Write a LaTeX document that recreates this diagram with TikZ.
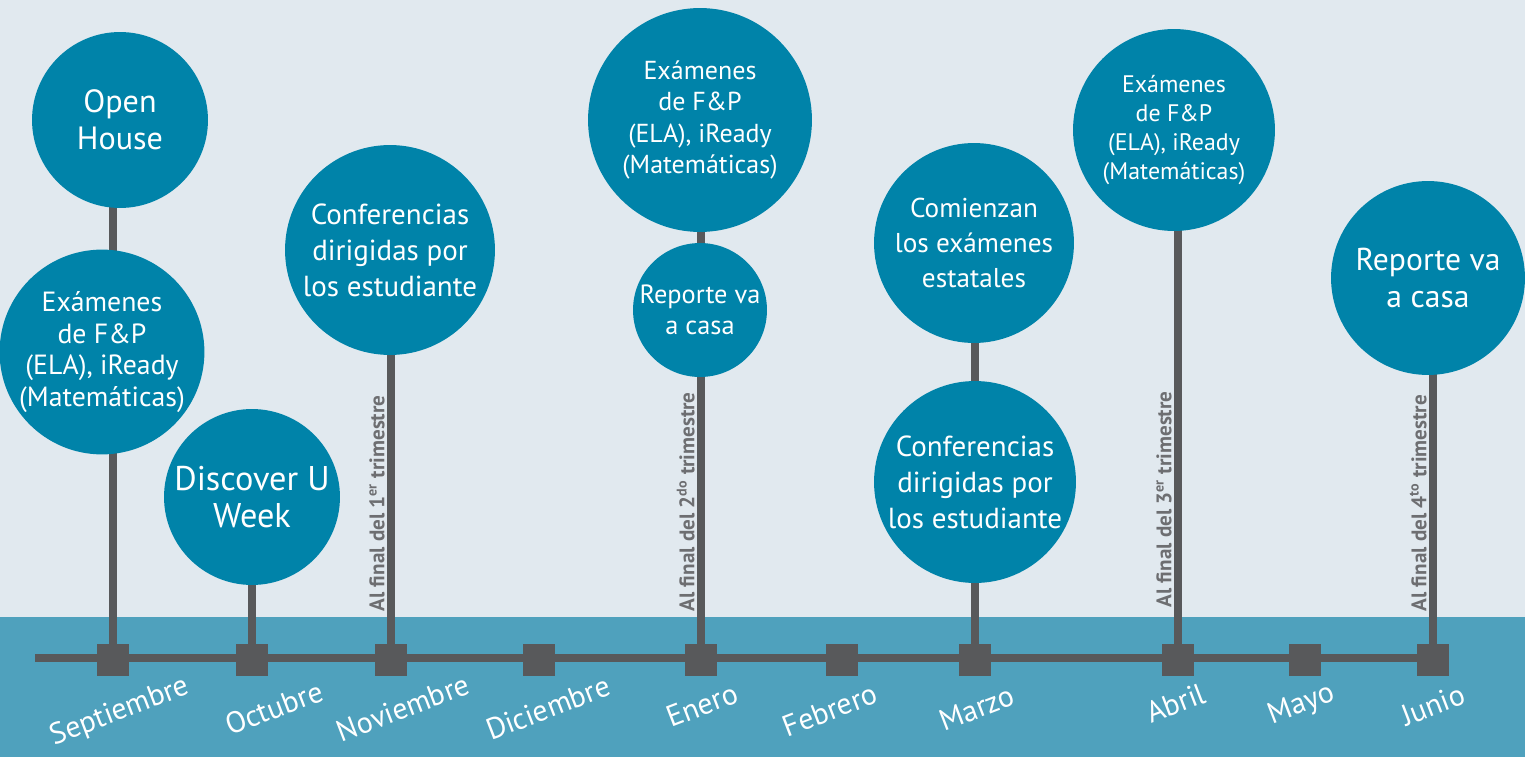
\documentclass[tikz,border=0pt]{standalone}
\usepackage{fontspec}
\setmainfont{PT Sans}
\usetikzlibrary{positioning}
\definecolor{sky}{HTML}{E1E9EF}
\definecolor{band}{HTML}{4FA1BD}
\definecolor{petrol}{HTML}{0083A9}
\definecolor{slate}{HTML}{58595B}
\definecolor{note}{HTML}{6D6E71}
\pgfdeclarelayer{bg}
\pgfdeclarelayer{lines}
\pgfsetlayers{bg,lines,main}
\newcommand{\fsz}[2]{\fontsize{#1}{#2}\selectfont}
\tikzset{
	evt/.style 2 args={circle,fill=petrol,text=white,inner sep=0pt,align=center,minimum size=#1*0.04cm,font=#2},
	sq/.style={rectangle,fill=slate,inner sep=0pt,minimum size=0.64cm},
	month/.style={text=white,rotate=21,inner sep=0pt,font=\fsz{17}{20}},
	stem/.style={draw=slate,line width=0.16cm},
	trim/.style={text=note,rotate=90,anchor=south west,inner sep=0pt,font=\bfseries\fsz{12}{14}}
}

\begin{document}
\begin{tikzpicture}[x=0.02cm,y=-0.02cm]%[scale=1.5]
	\useasboundingbox (0,0) rectangle (1525,757);
	\begin{pgfonlayer}{bg}
		\fill[sky] (0,0) rectangle (1525,617);
		\fill[band] (0,617) rectangle (1525,757);
	\end{pgfonlayer}

	% months
	\coordinate (start) at (35,658);
	\node [sq] (sep) at (113,660) {};
	\node [sq] (oct) at (252,660) {};
	\node [sq] (nov) at (391,660) {};
	\node [sq] (dic) at (539,660) {};
	\node [sq] (ene) at (701,660) {};
	\node [sq] (feb) at (842,660) {};
	\node [sq] (mar) at (975,660) {};
	\node [sq] (abr) at (1178,660) {};
	\node [sq] (may) at (1305,660) {};
	\node [sq] (jun) at (1433,660) {};

	\node [month] (lsep) at ([shift={(7,52)}]sep.center) {Septiembre};
	\node [month] (loct) at ([shift={(22,48)}]oct.center) {Octubre};
	\node [month] (lnov) at ([shift={(12,48)}]nov.center) {Noviembre};
	\node [month] (ldic) at ([shift={(9,48)}]dic.center) {Diciembre};
	\node [month] (lene) at ([shift={(1,45)}]ene.center) {Enero};
	\node [month] (lfeb) at ([shift={(-12,50)}]feb.center) {Febrero};
	\node [month] (lmar) at ([shift={(2,48)}]mar.center) {Marzo};
	\node [month] (labr) at ([shift={(-2,43)}]abr.center) {Abril};
	\node [month] (lmay) at ([shift={(-3,45)}]may.center) {Mayo};
	\node [month] (ljun) at ([shift={(0,45)}]jun.center) {Junio};

	% events
	\node [evt={88}{\fsz{18.3}{21}}] (openhouse) at (120,120) {Open\\House};
	\node [evt={95}{\fsz{15.8}{18}}] (examsep) at (102,352) {Exámenes\\de F\&P\\(ELA), iReady\\(Matemáticas)};
	\node [evt={88}{\fsz{19.5}{21}}] (discover) at (252,497) {Discover U\\Week};
	\node [evt={105}{\fsz{16.5}{20.5}}] (conf1) at (390,250) {Conferencias\\dirigidas por\\los estudiante};
	\node [evt={112}{\fsz{14.8}{18}}] (examene) at (700,120) {Exámenes\\de F\&P\\(ELA), iReady\\(Matemáticas)};
	\node [evt={67}{\fsz{15}{17.5}}] (repene) at (700,310) {Reporte va\\a casa};
	\node [evt={100}{\fsz{15.5}{20}}] (comienzan) at (974,243) {Comienzan\\los exámenes\\estatales};
	\node [evt={101}{\fsz{16.5}{20.5}}] (conf2) at (975,482) {Conferencias\\dirigidas por\\los estudiante};
	\node [evt={101}{\fsz{13.6}{16.5}}] (examabr) at (1174,130) {Exámenes\\de F\&P\\(ELA), iReady\\(Matemáticas)};
	\node [evt={97}{\fsz{18}{21}}] (repjun) at (1428,278) {Reporte va\\a casa};

	\node [trim] (tnov) at ([shift={(-6,-32)}]nov.north) {Al final del 1\textsuperscript{er} trimestre};
	\node [trim] (tene) at ([shift={(-6,-32)}]ene.north) {Al final del 2\textsuperscript{do} trimestre};
	\node [trim] (tabr) at ([shift={(-6,-36)}]abr.north) {Al final del 3\textsuperscript{er} trimestre};
	\node [trim] (tjun) at ([shift={(-6,-32)}]jun.north) {Al final del 4\textsuperscript{to} trimestre};

	\begin{pgfonlayer}{lines}
		\draw [stem] (start) -- (jun |- start);
		\draw [stem] (sep.center) -- (sep |- openhouse.center);
		\draw [stem] (oct.center) -- (oct |- discover.center);
		\draw [stem] (nov.center) -- (nov |- conf1.center);
		\draw [stem] (ene.center) -- (ene |- examene.center);
		\draw [stem] (mar.center) -- (mar |- comienzan.center);
		\draw [stem] (abr.center) -- (abr |- examabr.center);
		\draw [stem] (jun.center) -- (jun |- repjun.center);
	\end{pgfonlayer}
\end{tikzpicture}
\end{document}
